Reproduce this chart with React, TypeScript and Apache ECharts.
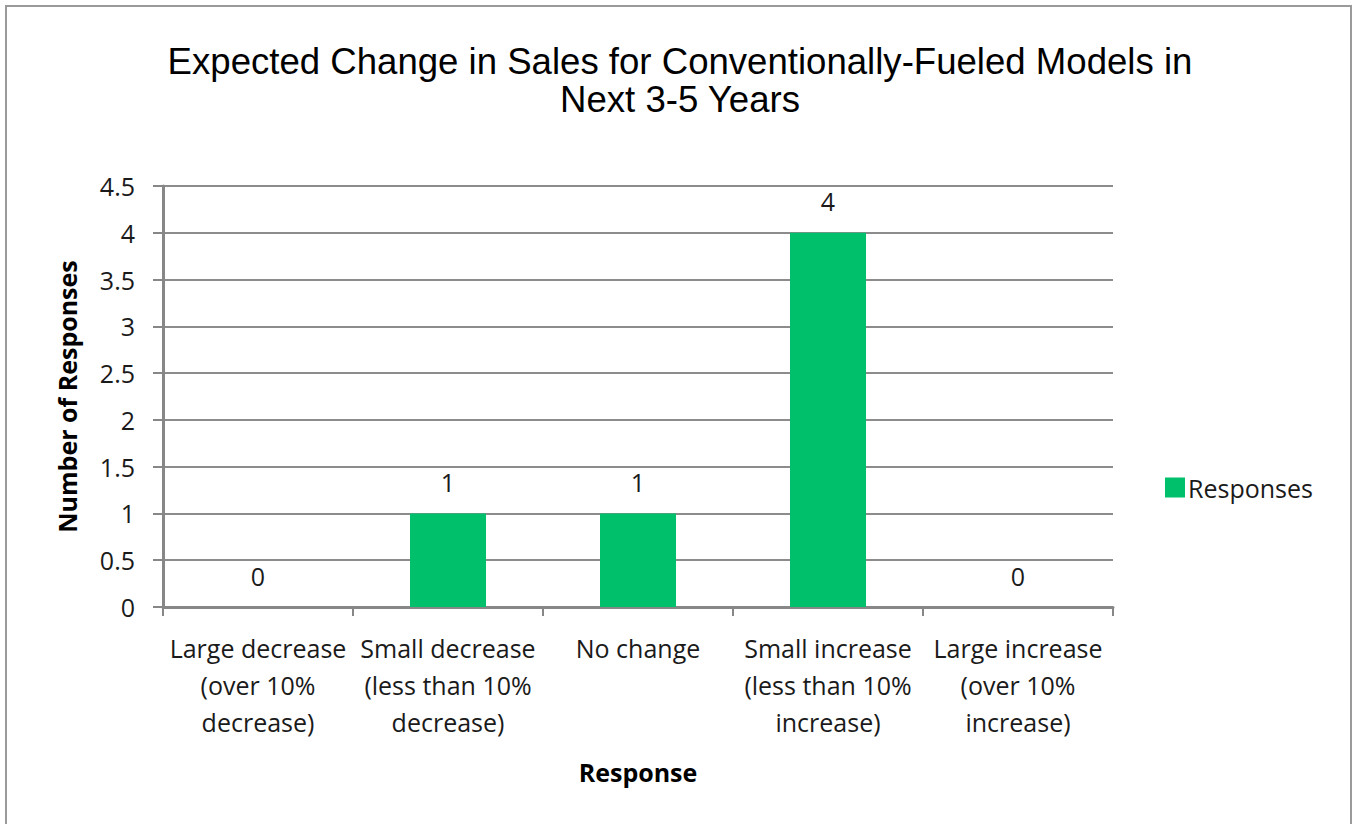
import React, { useEffect, useRef } from "react";
import * as echarts from "echarts";

const categories = [
  "Large decrease\n(over 10%\ndecrease)",
  "Small decrease\n(less than 10%\ndecrease)",
  "No change",
  "Small increase\n(less than 10%\nincrease)",
  "Large increase\n(over 10%\nincrease)",
];
const responses = [0, 1, 1, 4, 0];
const titleText = "Expected Change in Sales for Conventionally-Fueled Models in\nNext 3-5 Years";
const seriesName = "Responses";
const yAxisName = "Number of Responses";
const xAxisName = "Response";

const BODY_FONT = "'Open Sans', Lato, sans-serif";
const TITLE_FONT = "'Liberation Sans', Arial, sans-serif";

export default function App() {
  const ref = useRef<HTMLDivElement>(null);
  useEffect(() => {
    if (!ref.current) return;
    const chart = echarts.init(ref.current, undefined, { renderer: "svg" });
    chart.setOption({
      animation: false,
      backgroundColor: "#ffffff",
      title: {
        text: titleText,
        left: 675,
        textAlign: "center",
        top: 37,
        textStyle: {
          fontFamily: TITLE_FONT,
          fontSize: 36.6,
          fontWeight: "normal",
          color: "#000",
          lineHeight: 38,
        },
      },
      graphic: [
        {
          type: "rect",
          shape: { x: 6, y: 6, width: 1345, height: 840 },
          style: { fill: "none", stroke: "#9a9a9a", lineWidth: 2 },
          silent: true,
        },
      ],
      legend: {
        left: 1160,
        top: 470,
        itemWidth: 20,
        itemHeight: 20,
        itemGap: 6,
        icon: "rect",
        textStyle: { fontFamily: BODY_FONT, fontSize: 25, color: "#1a1a1a", padding: [0, 0, 0, -2] },
        data: [seriesName],
      },
      grid: { left: 163, right: 241, top: 186, bottom: 217 },
      xAxis: {
        type: "category",
        data: categories,
        name: xAxisName,
        nameLocation: "middle",
        nameGap: 152,
        nameTextStyle: { fontFamily: BODY_FONT, fontSize: 25, fontWeight: "bold", color: "#000" },
        axisLine: { lineStyle: { color: "#878787", width: 3 } },
        axisTick: { show: true, length: 9, lineStyle: { color: "#878787", width: 2 } },
        axisLabel: {
          interval: 0,
          fontFamily: BODY_FONT,
          fontSize: 25,
          lineHeight: 37,
          color: "#1a1a1a",
          margin: 22,
        },
      },
      yAxis: {
        type: "value",
        min: 0,
        max: 4.5,
        interval: 0.5,
        name: yAxisName,
        nameLocation: "middle",
        nameGap: 84,
        nameTextStyle: { fontFamily: BODY_FONT, fontSize: 25, fontWeight: "bold", color: "#000" },
        axisLine: { show: true, lineStyle: { color: "#878787", width: 3 } },
        axisTick: { show: true, length: 10, lineStyle: { color: "#878787", width: 2 } },
        splitLine: { show: true, lineStyle: { color: "#8c8c8c", width: 2 } },
        axisLabel: {
          fontFamily: BODY_FONT,
          fontSize: 25,
          color: "#1a1a1a",
          margin: 28,
        },
      },
      series: [
        {
          name: seriesName,
          type: "bar",
          data: responses,
          barWidth: 76,
          itemStyle: { color: "#00c06b" },
          label: {
            show: true,
            position: "top",
            distance: 19,
            fontFamily: BODY_FONT,
            fontSize: 25,
            color: "#1a1a1a",
          },
        },
      ],
    });
    return () => chart.dispose();
  }, []);
  return (
    <div
      ref={ref}
      style={{ position: "fixed", left: 0, top: 0, width: 1354, height: 824 }}
    />
  );
}
